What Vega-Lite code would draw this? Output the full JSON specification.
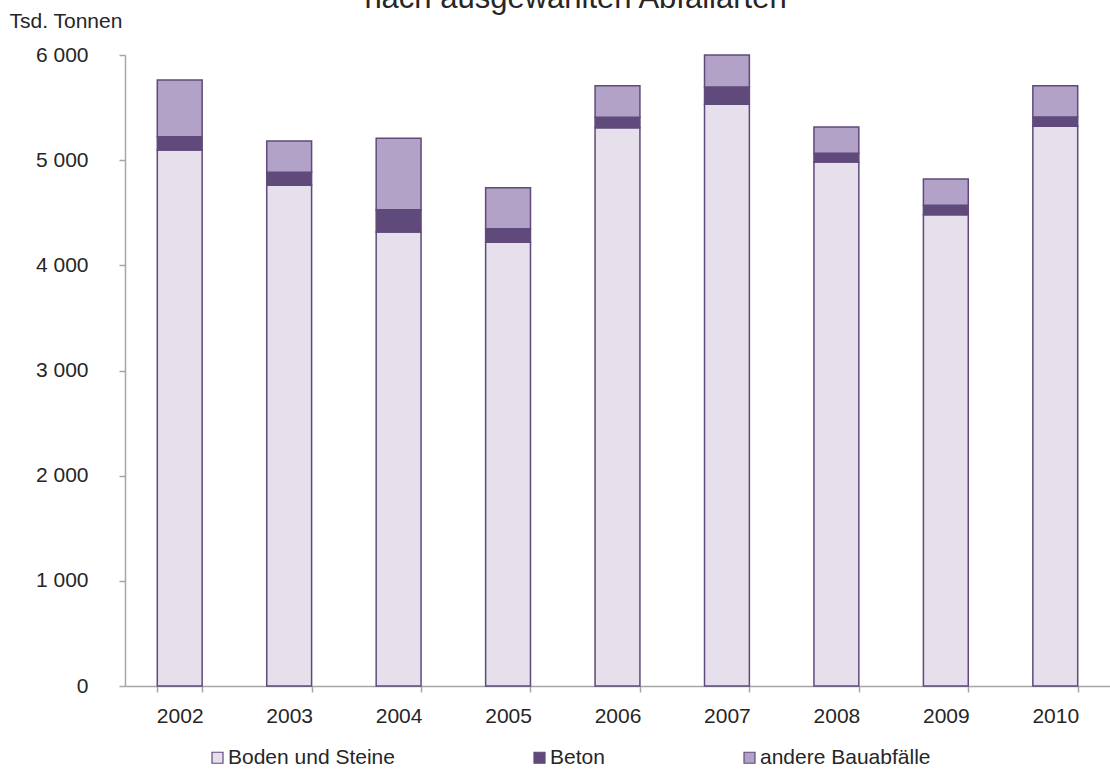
{
  "$schema": "https://vega.github.io/schema/vega-lite/v6.json",
  "width": 985,
  "height": 631,
  "autosize": {"type": "none"},
  "padding": {"left": 125, "top": 55, "right": 0, "bottom": 83},
  "background": "white",
  "title": {
    "text": "nach ausgewählten Abfallarten",
    "font": "Liberation Sans",
    "fontSize": 31,
    "fontWeight": "normal",
    "color": "#262626",
    "anchor": "middle",
    "frame": "group",
    "baseline": "alphabetic",
    "dx": -42,
    "dy": 29,
    "offset": 0
  },
  "data": {
    "values": [
      {"Jahr": "2002", "Art": "Boden und Steine", "Rang": 1, "Menge": 5096},
      {"Jahr": "2002", "Art": "Beton", "Rang": 2, "Menge": 127},
      {"Jahr": "2002", "Art": "andere Bauabfälle", "Rang": 3, "Menge": 539},
      {"Jahr": "2003", "Art": "Boden und Steine", "Rang": 1, "Menge": 4761},
      {"Jahr": "2003", "Art": "Beton", "Rang": 2, "Menge": 123},
      {"Jahr": "2003", "Art": "andere Bauabfälle", "Rang": 3, "Menge": 298},
      {"Jahr": "2004", "Art": "Boden und Steine", "Rang": 1, "Menge": 4317},
      {"Jahr": "2004", "Art": "Beton", "Rang": 2, "Menge": 212},
      {"Jahr": "2004", "Art": "andere Bauabfälle", "Rang": 3, "Menge": 679},
      {"Jahr": "2005", "Art": "Boden und Steine", "Rang": 1, "Menge": 4219},
      {"Jahr": "2005", "Art": "Beton", "Rang": 2, "Menge": 129},
      {"Jahr": "2005", "Art": "andere Bauabfälle", "Rang": 3, "Menge": 390},
      {"Jahr": "2006", "Art": "Boden und Steine", "Rang": 1, "Menge": 5309},
      {"Jahr": "2006", "Art": "Beton", "Rang": 2, "Menge": 98},
      {"Jahr": "2006", "Art": "andere Bauabfälle", "Rang": 3, "Menge": 301},
      {"Jahr": "2007", "Art": "Boden und Steine", "Rang": 1, "Menge": 5531},
      {"Jahr": "2007", "Art": "Beton", "Rang": 2, "Menge": 165},
      {"Jahr": "2007", "Art": "andere Bauabfälle", "Rang": 3, "Menge": 304},
      {"Jahr": "2008", "Art": "Boden und Steine", "Rang": 1, "Menge": 4982},
      {"Jahr": "2008", "Art": "Beton", "Rang": 2, "Menge": 83},
      {"Jahr": "2008", "Art": "andere Bauabfälle", "Rang": 3, "Menge": 250},
      {"Jahr": "2009", "Art": "Boden und Steine", "Rang": 1, "Menge": 4481},
      {"Jahr": "2009", "Art": "Beton", "Rang": 2, "Menge": 90},
      {"Jahr": "2009", "Art": "andere Bauabfälle", "Rang": 3, "Menge": 250},
      {"Jahr": "2010", "Art": "Boden und Steine", "Rang": 1, "Menge": 5322},
      {"Jahr": "2010", "Art": "Beton", "Rang": 2, "Menge": 88},
      {"Jahr": "2010", "Art": "andere Bauabfälle", "Rang": 3, "Menge": 298}
    ]
  },
  "mark": {"type": "bar", "stroke": "#604A7B", "strokeWidth": 1.5},
  "encoding": {
    "x": {
      "field": "Jahr",
      "type": "nominal",
      "scale": {"paddingInner": 0.59, "paddingOuter": 0.295},
      "axis": {
        "title": null,
        "labelAngle": 0,
        "tickBand": "extent",
        "tickSize": 6,
        "labelPadding": 13,
        "domainColor": "#A6A6A6",
        "tickColor": "#A6A6A6",
        "domainWidth": 1.5,
        "tickWidth": 1.5
      }
    },
    "y": {
      "field": "Menge",
      "type": "quantitative",
      "stack": "zero",
      "scale": {"domain": [0, 6000], "nice": false},
      "axis": {
        "values": [0, 1000, 2000, 3000, 4000, 5000, 6000],
        "labelExpr": "replace(format(datum.value, ','), ',', ' ')",
        "grid": false,
        "tickSize": 6,
        "labelPadding": 31,
        "domainColor": "#A6A6A6",
        "tickColor": "#A6A6A6",
        "domainWidth": 1.5,
        "tickWidth": 1.5,
        "title": "Tsd. Tonnen",
        "titleAngle": 0,
        "titleAlign": "left",
        "titleBaseline": "alphabetic",
        "titleX": -116,
        "titleY": -28,
        "titleFont": "Liberation Sans",
        "titleFontSize": 21,
        "titleFontWeight": "normal",
        "titleColor": "#262626"
      }
    },
    "color": {
      "field": "Art",
      "type": "nominal",
      "sort": ["Boden und Steine", "Beton", "andere Bauabfälle"],
      "scale": {
        "domain": ["Boden und Steine", "Beton", "andere Bauabfälle"],
        "range": ["#E5E0EC", "#604A7B", "#B2A2C7"]
      },
      "legend": {
        "title": null,
        "orient": "none",
        "direction": "horizontal",
        "legendX": 82,
        "legendY": 692,
        "columnPadding": 134,
        "labelLimit": 400,
        "symbolType": "square",
        "symbolSize": 121,
        "symbolStrokeColor": "#604A7B",
        "symbolStrokeWidth": 1.2,
        "symbolOpacity": 1,
        "labelOffset": 0,
        "labelFont": "Liberation Sans",
        "labelFontSize": 21,
        "labelColor": "#262626"
      }
    },
    "order": {"field": "Rang", "type": "quantitative", "sort": "ascending"}
  },
  "config": {
    "view": {"stroke": null},
    "axis": {
      "labelFont": "Liberation Sans",
      "labelFontSize": 21,
      "labelColor": "#262626"
    }
  }
}
